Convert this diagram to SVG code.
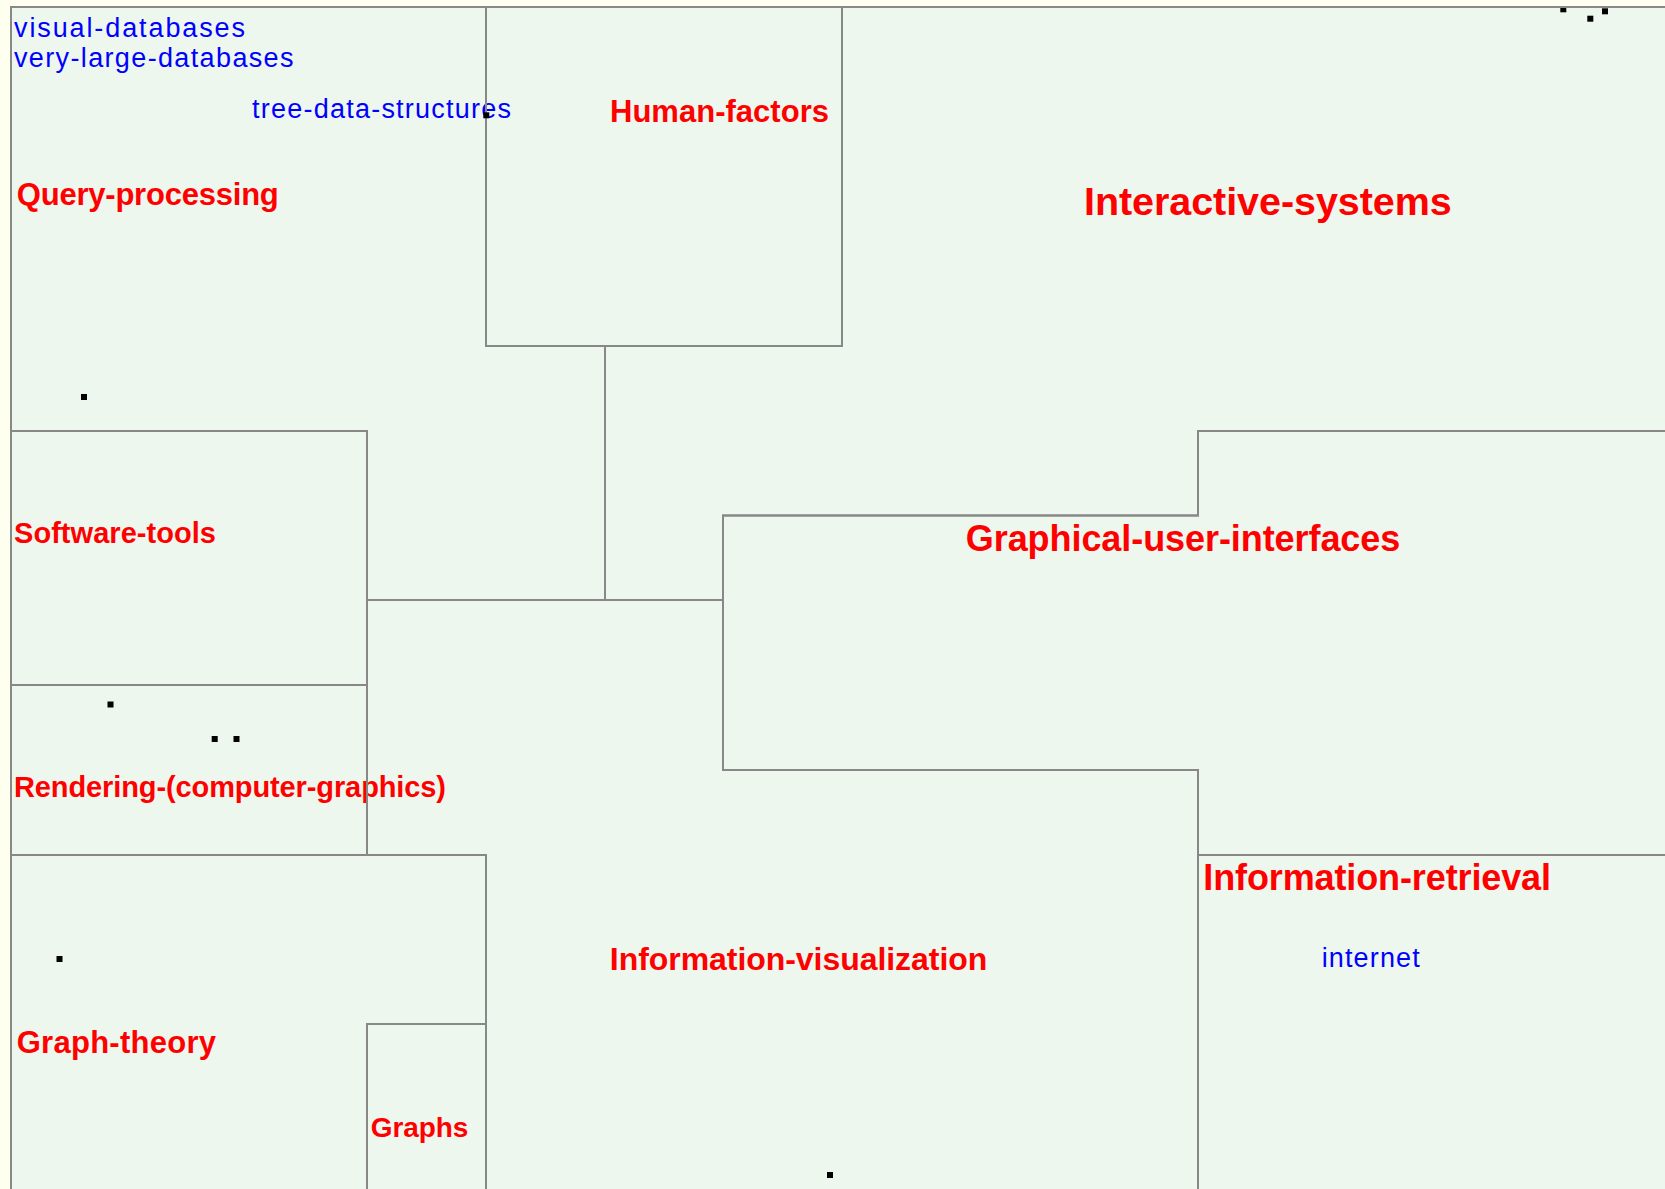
<svg xmlns="http://www.w3.org/2000/svg" width="1665" height="1189" viewBox="0 0 1665 1189">
  <style>
    .region { fill: none; stroke: #888888; stroke-width: 2; stroke-linejoin: miter; }
    .topic { font-family: "Liberation Sans", Arial, sans-serif; font-weight: bold; fill: #ff0000; }
    .term { font-family: "Liberation Sans", Arial, sans-serif; font-size: 27px; fill: #0000ff; }
    .dot { fill: #000000; }
  </style>
  <defs>
    <rect id="pt" x="-3" y="-3" width="6" height="6" class="dot"/>
  </defs>

  <!-- page and map background -->
  <rect x="0" y="0" width="1665" height="1189" fill="#fffff0"/>
  <rect x="11" y="7" width="1670" height="1200" fill="#edf7ed"/>

  <g id="query-processing">
    <polygon class="region" points="11,7 486,7 486,346 605,346 605,600 367,600 367,431 11,431"/>
    <text class="term" x="14" y="36.7" textLength="231">visual-databases</text>
    <text class="term" x="14" y="66.7" textLength="279.5">very-large-databases</text>
    <text class="term" x="252" y="118.3" textLength="259">tree-data-structures</text>
    <text class="topic" x="16.8" y="205" font-size="31" textLength="262">Query-processing</text>
    <use href="#pt" x="84" y="397"/>
  </g>

  <g id="human-factors">
    <rect class="region" x="486" y="7" width="356" height="339"/>
    <text class="topic" x="610" y="121.7" font-size="31" textLength="219">Human-factors</text>
    <use href="#pt" x="486.3" y="115.3"/>
  </g>

  <g id="interactive-systems">
    <polygon class="region" points="842,7 1680,7 1680,431 1198,431 1198,515.5 723,515.5 723,600 605,600 605,346 842,346"/>
    <text class="topic" x="1084" y="215" font-size="39.5" textLength="367.7">Interactive-systems</text>
    <use href="#pt" x="1563.3" y="9.3"/>
    <use href="#pt" x="1590.3" y="18.7"/>
    <use href="#pt" x="1605" y="11.3"/>
  </g>

  <g id="software-tools">
    <rect class="region" x="11" y="431" width="356" height="254"/>
    <text class="topic" x="14" y="543.3" font-size="29" textLength="202">Software-tools</text>
  </g>

  <g id="rendering">
    <rect class="region" x="11" y="685" width="356" height="170"/>
    <text class="topic" x="14" y="797.3" font-size="29" textLength="432">Rendering-(computer-graphics)</text>
    <use href="#pt" x="110.5" y="704.5"/>
    <use href="#pt" x="214.7" y="739"/>
    <use href="#pt" x="236.5" y="739"/>
  </g>

  <g id="graph-theory">
    <polygon class="region" points="11,1200 11,855 486,855 486,1200"/>
    <text class="topic" x="16.7" y="1053.3" font-size="31" textLength="199.3">Graph-theory</text>
    <use href="#pt" x="59.5" y="959"/>
  </g>

  <g id="graphs">
    <polygon class="region" points="367,1200 367,1024 486,1024 486,1200"/>
    <text class="topic" x="370.7" y="1136.7" font-size="28" textLength="97.6">Graphs</text>
  </g>

  <g id="graphical-user-interfaces">
    <polygon class="region" points="723,515.5 1198,515.5 1198,431 1680,431 1680,855 1198,855 1198,770 723,770"/>
    <text class="topic" x="965.8" y="550.7" font-size="36" textLength="434.5">Graphical-user-interfaces</text>
  </g>

  <g id="information-visualization">
    <polygon class="region" points="367,600 723,600 723,770 1198,770 1198,1200 486,1200 486,855 367,855"/>
    <text class="topic" x="609.8" y="970" font-size="32" textLength="377.5">Information-visualization</text>
    <use href="#pt" x="830" y="1175"/>
  </g>

  <g id="information-retrieval">
    <polygon class="region" points="1198,1200 1198,855 1680,855 1680,1200"/>
    <text class="topic" x="1203.3" y="890" font-size="36" textLength="347.7">Information-retrieval</text>
    <text class="term" x="1321.7" y="967.3" textLength="98">internet</text>
  </g>

  <!-- outer frame edges of the map -->
  <g id="frame">
    <polyline class="region" points="11,1200 11,7 1680,7"/>
  </g>
</svg>
